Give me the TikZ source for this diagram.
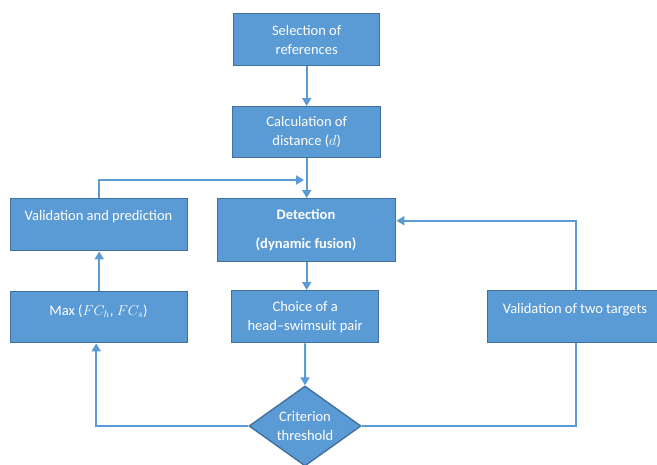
\documentclass[tikz,border=0pt]{standalone}
\usepackage{fontspec}
\setmainfont{Carlito}
\usetikzlibrary{arrows.meta,shapes.geometric,calc}
\definecolor{boxfill}{HTML}{5B9BD5}
\definecolor{boxline}{HTML}{41719C}
\definecolor{conncol}{HTML}{5B9BD5}
\begin{document}
\begin{tikzpicture}[x=1pt,y=-1pt,
  box/.style={draw=boxline,line width=1.4pt,fill=boxfill,inner sep=0pt,anchor=north west},
  lbl/.style={text=white,align=center,font=\fontsize{14.5}{19}\selectfont,inner sep=0pt},
  conn/.style={draw=conncol,line width=2pt},
  arr/.style={conn,-{Triangle[length=8pt,width=9pt]}}]
\useasboundingbox (0,0) rectangle (657,464);
% boxes
\node[box,minimum width=146pt,minimum height=52pt] (sel) at (233,13) {};
\node[box,minimum width=148pt,minimum height=51pt] (calc) at (232,106) {};
\node[box,minimum width=178pt,minimum height=63pt] (det) at (217,198) {};
\node[box,minimum width=177pt,minimum height=52pt] (vp) at (10,198) {};
\node[box,minimum width=177pt,minimum height=51pt] (mx) at (10,291) {};
\node[box,minimum width=147pt,minimum height=52pt] (ch) at (231,290) {};
\node[box,minimum width=176pt,minimum height=52pt] (vt) at (487,290) {};
\node[diamond,draw=boxline,line width=1.4pt,fill=boxfill,inner sep=0pt,
      minimum width=112pt,minimum height=80pt] (dia) at (305,426) {};
% labels
\node[lbl] (tsel) at (sel.center) {Selection of\\references};
\node[lbl] (tcalc) at (calc.center) {Calculation of\\distance ($d$)};
\node[lbl,font=\fontsize{14.5}{19}\selectfont\bfseries] (tdet1) at (306,214) {Detection};
\node[lbl,font=\fontsize{14.5}{19}\selectfont\bfseries] (tdet2) at (306,244) {(dynamic fusion)};
\node[lbl] (tvp) at (98.5,217) {Validation and prediction};
\node[lbl] (tmx) at (98.5,311) {Max ($FC_h$, $FC_s$)};
\node[lbl] (tch) at (ch.center) {Choice of a\\head–swimsuit pair};
\node[lbl] (tvt) at (575,310) {Validation of two targets};
\node[lbl] (tdia) at (dia.center) {Criterion\\threshold};
% connectors
\coordinate (j) at (304,180);
\draw[arr] (sel.south) -- (calc.north);
\draw[arr] (calc.south) -- (det.north);
\draw[arr] (vp.north) |- (j);
\draw[arr] (det.south) -- (det.south |- ch.north);
\draw[arr] (ch.south) -- (dia.north);
\draw[arr] (mx.north) -- (vp.south);
\draw[arr] (dia.west) -| ([xshift=-3pt]mx.south);
\draw[conn] (dia.east) -| (vt.south);
\draw[arr] (vt.north) |- ([yshift=9.5pt]det.east);
\end{tikzpicture}
\end{document}
